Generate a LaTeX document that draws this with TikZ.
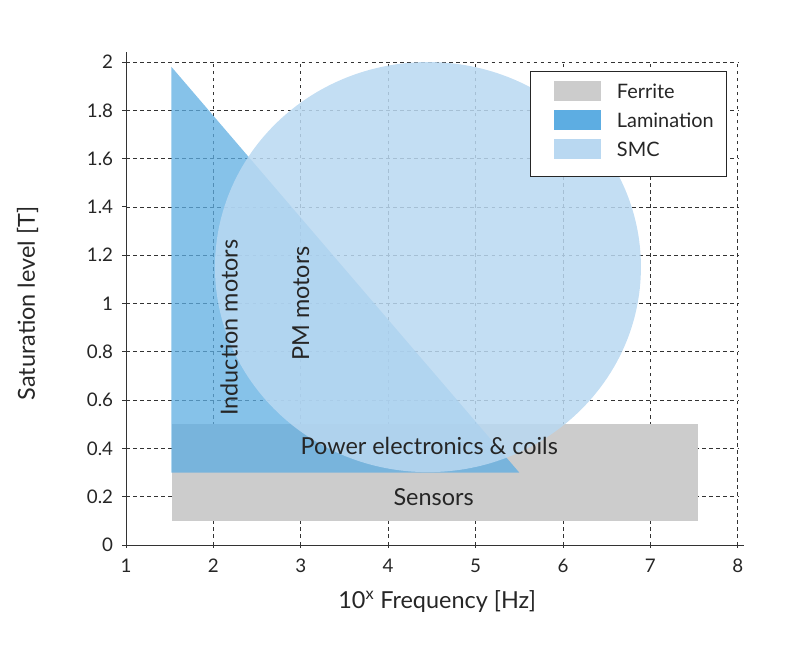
\documentclass[tikz,border=0pt]{standalone}
\usepackage{fontspec}
\setmainfont{Lato}
\definecolor{lamc}{RGB}{93,173,226}
\definecolor{smcc}{RGB}{185,216,241}
\begin{document}
\begin{tikzpicture}[x=2.622cm,y=7.245cm,
 grid/.style={dash pattern=on 3pt off 3pt,line width=0.6pt,black!80},
 tick/.style={font=\fontsize{16}{18}\selectfont,text=black!85},
 lbl/.style={font=\fontsize{20}{22}\selectfont,text=black!85},
 ferrite/.style={fill=black!20},
 lam/.style={fill=lamc,fill opacity=0.75},
 smc/.style={fill=smcc,fill opacity=0.85}]
\useasboundingbox (-0.4416,-0.414) rectangle (8.712,2.257);
\foreach \x in {2,...,8} \draw[grid] (\x,0) -- (\x,2);
\foreach \y in {0.2,0.4,...,2.01} \draw[grid] (1,\y) -- (8,\y);
\fill[ferrite] (1.53,0.1) rectangle (7.54,0.5);
\fill[lam] (1.52,1.98) -- (1.52,0.3) -- (5.5,0.3) -- cycle;
\fill[smc] (4.455,1.151) ellipse [x radius=2.437, y radius=0.849];
\draw[line width=0.8pt,black!80] (1,-0.01) -- (1,2.04);
\draw[line width=0.8pt,black!80] (0.97,0) -- (8.07,0);
\foreach \x in {1,...,8} {\draw[line width=0.8pt,black!80] (\x,0) -- (\x,-0.012);
 \node[tick,anchor=north] (tx\x) at (\x,-0.04) {\x};}
\foreach \y/\t in {0/0,0.2/0.2,0.4/0.4,0.6/0.6,0.8/0.8,1/1,1.2/1.2,1.4/1.4,1.6/1.6,1.8/1.8,2/2} {
 \draw[line width=0.8pt,black!80] (1,\y) -- (0.95,\y);
 \node[tick,anchor=east] (ty\t) at (0.9,\y) {\t};}
\node[lbl] (xl) at (4.56,-0.235) {10$^{\mathrm{x}}$ Frequency [Hz]};
\node[lbl,rotate=90] (yl) at (-0.127,1.0) {Saturation level [T]};
\node[lbl,rotate=90] (im) at (2.18,0.9) {Induction motors};
\node[lbl,rotate=90] (pm) at (3.0,1.0) {PM motors};
\node[lbl] (pe) at (4.47,0.41) {Power electronics \& coils};
\node[lbl] (se) at (4.52,0.2) {Sensors};
\draw[fill=white,draw=black!85,line width=0.6pt] (5.622,1.525) rectangle (7.865,1.963);
\fill[black!20] (5.9,1.84) rectangle (6.43,1.92);
\fill[lamc] (5.9,1.72) rectangle (6.43,1.80);
\fill[smcc] (5.9,1.60) rectangle (6.43,1.68);
\node[tick,anchor=west,font=\fontsize{17}{19}\selectfont] (l1) at (6.57,1.88) {Ferrite};
\node[tick,anchor=west,font=\fontsize{17}{19}\selectfont] (l2) at (6.57,1.76) {Lamination};
\node[tick,anchor=west,font=\fontsize{17}{19}\selectfont] (l3) at (6.57,1.64) {SMC};
\end{tikzpicture}
\end{document}
